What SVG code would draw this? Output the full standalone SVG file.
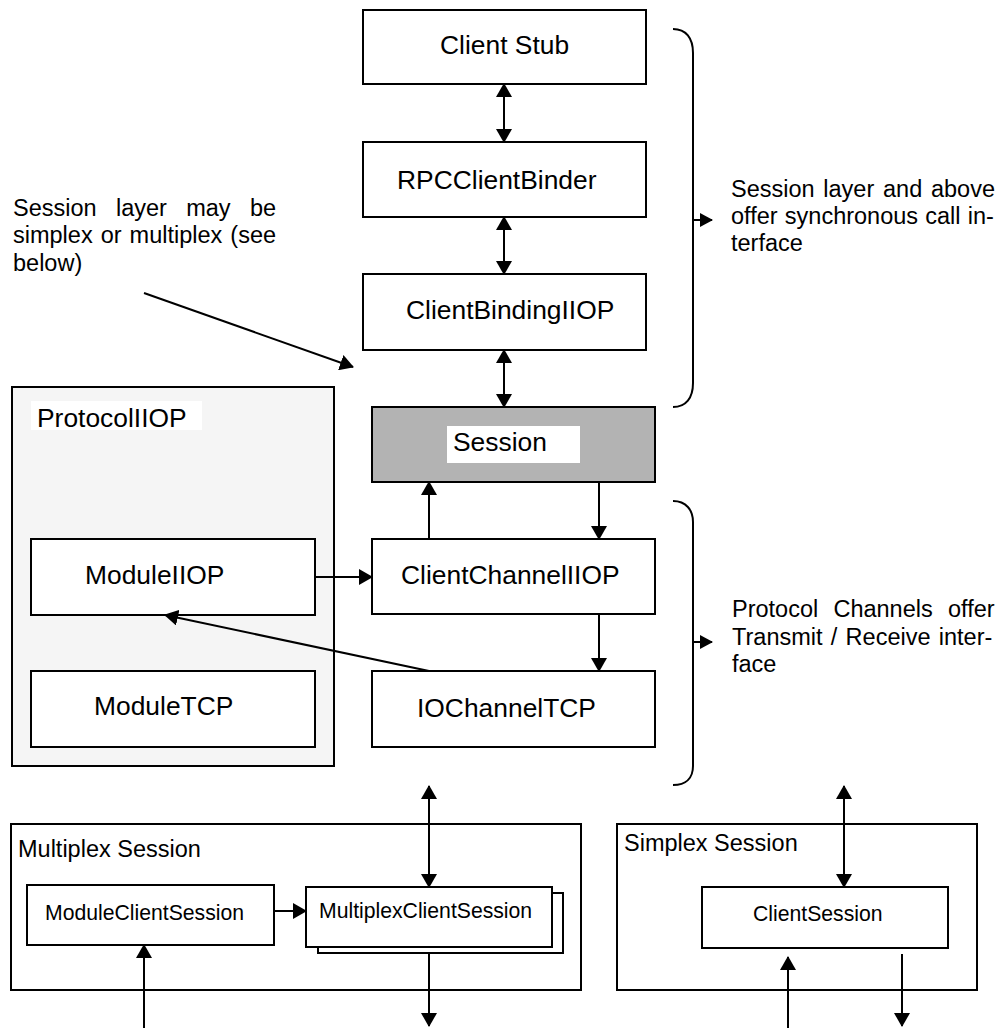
<svg xmlns="http://www.w3.org/2000/svg" width="1008" height="1028" viewBox="0 0 1008 1028">
  <style>
    .box { fill: #ffffff; stroke: #000000; stroke-width: 2; }
    .lbl { font-family: "Liberation Sans", Arial, sans-serif; font-size: 26.4px; fill: #000000; }
    .note { font-family: "Liberation Sans", Arial, sans-serif; font-size: 23.5px; fill: #000000; }
    .small { font-family: "Liberation Sans", Arial, sans-serif; font-size: 21.2px; fill: #000000; }
    .wire { fill: none; stroke: #000000; stroke-width: 2; }
    .arr { marker-end: url(#ah); }
    .both { marker-start: url(#ah); marker-end: url(#ah); }
    .brace { fill: none; stroke: #000000; stroke-width: 2; }
  </style>
  <defs>
    <marker id="ah" viewBox="0 0 14 16" refX="13" refY="8" markerWidth="14" markerHeight="16" markerUnits="userSpaceOnUse" orient="auto-start-reverse">
      <path d="M0,0 L14,8 L0,16 Z" fill="#000000"/>
    </marker>
    <marker id="ahs" viewBox="0 0 13 14" refX="12" refY="7" markerWidth="13" markerHeight="14" markerUnits="userSpaceOnUse" orient="auto">
      <path d="M0,0 L13,7 L0,14 Z" fill="#000000"/>
    </marker>
  </defs>

  <rect width="1008" height="1028" fill="#ffffff"/>

  <!-- protocol container -->
  <g id="protocol-iiop">
    <rect x="12" y="387" width="322" height="379" fill="#f5f5f5" stroke="#000000" stroke-width="2"/>
    <rect x="31" y="401" width="171" height="29" fill="#ffffff"/>
    <text class="lbl" x="37" y="427">ProtocolIIOP</text>
  </g>

  <g id="client-stub">
    <rect class="box" x="363" y="10" width="283" height="74"/>
    <text class="lbl" x="440" y="54">Client Stub</text>
  </g>
  <g id="rpc-client-binder">
    <rect class="box" x="363" y="142" width="283" height="75"/>
    <text class="lbl" x="397" y="189">RPCClientBinder</text>
  </g>
  <g id="client-binding-iiop">
    <rect class="box" x="363" y="274" width="283" height="76"/>
    <text class="lbl" x="406" y="319">ClientBindingIIOP</text>
  </g>
  <g id="session">
    <rect x="372" y="407" width="283" height="75" fill="#b3b3b3" stroke="#000000" stroke-width="2"/>
    <rect x="447" y="426" width="133" height="37" fill="#ffffff"/>
    <text class="lbl" x="453" y="451">Session</text>
  </g>
  <g id="client-channel-iiop">
    <rect class="box" x="372" y="539" width="283" height="75"/>
    <text class="lbl" x="401" y="584">ClientChannelIIOP</text>
  </g>
  <g id="io-channel-tcp">
    <rect class="box" x="372" y="671" width="283" height="76"/>
    <text class="lbl" x="417" y="717">IOChannelTCP</text>
  </g>
  <g id="module-iiop">
    <rect class="box" x="31" y="539" width="284" height="76"/>
    <text class="lbl" x="85" y="584">ModuleIIOP</text>
  </g>
  <g id="module-tcp">
    <rect class="box" x="31" y="671" width="284" height="76"/>
    <text class="lbl" x="94" y="715">ModuleTCP</text>
  </g>

  <!-- multiplex session variant -->
  <g id="multiplex-session">
    <rect class="box" x="11" y="824" width="570" height="166"/>
    <text class="note" x="18" y="857">Multiplex Session</text>
  </g>
  <g id="module-client-session">
    <rect class="box" x="27" y="885" width="247" height="60"/>
    <text class="small" x="45" y="920">ModuleClientSession</text>
  </g>
  <g id="multiplex-client-session">
    <rect class="box" x="318" y="893" width="245" height="60"/>
    <rect class="box" x="306" y="887" width="246" height="60"/>
    <text class="small" x="319" y="918">MultiplexClientSession</text>
  </g>

  <!-- simplex session variant -->
  <g id="simplex-session">
    <rect class="box" x="617" y="824" width="360" height="166"/>
    <text class="note" x="624" y="851">Simplex Session</text>
  </g>
  <g id="client-session">
    <rect class="box" x="702" y="887" width="246" height="61"/>
    <text class="small" x="753" y="921">ClientSession</text>
  </g>

  <!-- annotations -->
  <g id="note-session-layer">
    <text class="note" x="13" y="216" word-spacing="12.8">Session layer may be</text>
    <text class="note" x="13" y="243" word-spacing="1.5">simplex or multiplex (see</text>
    <text class="note" x="13" y="271">below)</text>
  </g>
  <g id="note-sync">
    <text class="note" x="731" y="197" word-spacing="2.2">Session layer and above</text>
    <text class="note" x="731" y="224" word-spacing="0.7">offer synchronous call in-</text>
    <text class="note" x="731" y="251">terface</text>
  </g>
  <g id="note-channels">
    <text class="note" x="732" y="617" word-spacing="8.7">Protocol Channels offer</text>
    <text class="note" x="732" y="645" word-spacing="1.75">Transmit / Receive inter-</text>
    <text class="note" x="732" y="672">face</text>
  </g>

  <!-- braces -->
  <g id="braces">
    <path class="brace" d="M673,29 C686,29 693,38 693,53 L693,383 C693,398 686,407 673,407"/>
    <path class="brace" d="M673,501 C686,501 693,510 693,522 L693,766 C693,778 686,785 673,785"/>
  </g>

  <!-- connectors -->
  <g id="connectors">
    <line class="wire both" x1="504" y1="84" x2="504" y2="142"/>
    <line class="wire both" x1="504" y1="217" x2="504" y2="274"/>
    <line class="wire both" x1="504" y1="350" x2="504" y2="407"/>
    <line class="wire arr" x1="429" y1="539" x2="429" y2="482"/>
    <line class="wire arr" x1="599" y1="482" x2="599" y2="539"/>
    <line class="wire arr" x1="599" y1="614" x2="599" y2="671"/>
    <line class="wire arr" x1="315" y1="577" x2="372" y2="577"/>
    <line class="wire arr" x1="429" y1="671" x2="165" y2="615"/>
    <line class="wire arr" x1="144" y1="293" x2="353" y2="367"/>
    <line class="wire" x1="693" y1="220" x2="712" y2="220" marker-end="url(#ahs)"/>
    <line class="wire" x1="693" y1="642" x2="712" y2="642" marker-end="url(#ahs)"/>
    <line class="wire both" x1="429" y1="786" x2="429" y2="887"/>
    <line class="wire arr" x1="429" y1="953" x2="429" y2="1026"/>
    <line class="wire arr" x1="273" y1="911" x2="306" y2="911"/>
    <line class="wire arr" x1="144" y1="1028" x2="144" y2="945"/>
    <line class="wire both" x1="844" y1="786" x2="844" y2="887"/>
    <line class="wire arr" x1="788" y1="1028" x2="788" y2="957"/>
    <line class="wire arr" x1="902" y1="954" x2="902" y2="1026"/>
  </g>
</svg>
